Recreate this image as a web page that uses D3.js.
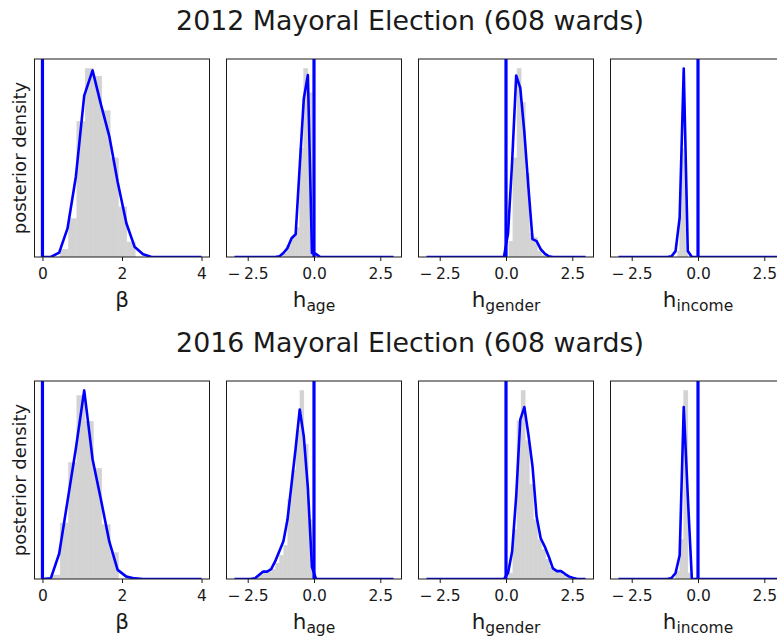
<!DOCTYPE html>
<html>
<head>
<meta charset="utf-8">
<script src="https://cdn.jsdelivr.net/npm/d3@7"></script>
<style>
  body { margin: 0; background: #fff; }
  text { font-family: "DejaVu Sans", sans-serif; }
</style>
</head>
<body>
<svg id="fig" width="777" height="636"></svg>
<script>
// ---- Data -------------------------------------------------------------
const years = ["2012", "2016"];
const wardCount = 608;
const paramSymbols = ["β", "h", "h", "h"];
const paramSubscripts = ["", "age", "gender", "income"];
const betaRange = [0, 4];
const hRange = [-3, 3];
const betaTicks = [0, 2, 4];
const hTicks = [-2.5, 0, 2.5];

// 2012 posterior density curves (vertices) and sample histograms
const beta2012X = [0, 0.21, 0.42, 0.63, 0.84, 1.05, 1.26, 1.47, 1.68, 1.89, 2.11, 2.32, 2.53, 2.74, 4.0];
const beta2012Y = [0, 0, 0.022, 0.144, 0.405, 0.814, 0.941, 0.77, 0.61, 0.38, 0.17, 0.05, 0.014, 0, 0];
const beta2012Edges = [0.444, 0.654, 0.864, 1.073, 1.283, 1.493, 1.703, 1.912, 2.122, 2.332];
const beta2012Hist = [0.039, 0.194, 0.684, 0.951, 0.912, 0.738, 0.50, 0.253, 0.076];

const age2012X = [-3.0, -1.462, -1.308, -1.154, -1.0, -0.846, -0.692, -0.538, -0.385, -0.231, -0.077, 0.077, 0.231, 3.0];
const age2012Y = [0, 0, 0.003, 0.02, 0.045, 0.095, 0.115, 0.46, 0.80, 0.92, 0.02, 0.015, 0, 0];
const age2012Edges = [-1.19, -1.03, -0.87, -0.71, -0.55, -0.39, -0.23, -0.07, 0.09];
const age2012Hist = [0.02, 0.06, 0.10, 0.15, 0.55, 0.953, 0.83, 0.02];

const gender2012X = [-3.0, -0.077, 0.077, 0.231, 0.385, 0.538, 0.692, 0.846, 1.0, 1.154, 1.308, 1.462, 1.615, 1.769, 3.0];
const gender2012Y = [0, 0, 0.12, 0.48, 0.915, 0.853, 0.63, 0.35, 0.09, 0.08, 0.04, 0.017, 0.003, 0, 0];
const gender2012Edges = [0.11, 0.26, 0.415, 0.57, 0.725, 0.88, 1.035, 1.19, 1.345, 1.5];
const gender2012Hist = [0.08, 0.5, 0.951, 0.78, 0.42, 0.12, 0.10, 0.03, 0.01];

const income2012X = [-3.0, -1.154, -1.0, -0.846, -0.692, -0.538, -0.385, -0.231, 3.0];
const income2012Y = [0, 0, 0.003, 0.03, 0.2, 0.959, 0.03, 0, 0];
const income2012Edges = [-0.77, -0.692, -0.615, -0.538, -0.462, -0.385];
const income2012Hist = [0.03, 0.2, 0.55, 0.5, 0.03];

// 2016 posterior density curves (vertices) and sample histograms
const beta2016X = [0, 0.21, 0.42, 0.63, 0.84, 1.05, 1.26, 1.47, 1.68, 1.89, 2.11, 2.32, 2.53, 4.0];
const beta2016Y = [0, 0.003, 0.127, 0.392, 0.657, 0.949, 0.603, 0.40, 0.189, 0.046, 0.012, 0.003, 0, 0];
const beta2016Edges = [0.235, 0.444, 0.654, 0.864, 1.073, 1.283, 1.493, 1.703, 1.912];
const beta2016Hist = [0.02, 0.282, 0.586, 0.924, 0.794, 0.557, 0.274, 0.133];

const age2016X = [-3.0, -2.385, -2.231, -2.077, -1.923, -1.769, -1.615, -1.462, -1.308, -1.154, -1.0, -0.846, -0.692, -0.538, -0.385, -0.231, -0.077, 0.077, 3.0];
const age2016Y = [0, 0, 0.003, 0.02, 0.037, 0.037, 0.05, 0.09, 0.14, 0.19, 0.30, 0.48, 0.66, 0.856, 0.72, 0.46, 0.06, 0, 0];
const age2016Edges = [-2.37, -2.22, -2.06, -1.91, -1.76, -1.6, -1.45, -1.3, -1.14, -0.99, -0.84, -0.68, -0.53, -0.38, -0.22, -0.07];
const age2016Hist = [0.005, 0.012, 0.022, 0.03, 0.035, 0.05, 0.08, 0.12, 0.17, 0.40, 0.55, 0.75, 0.952, 0.68, 0.3];

const gender2016X = [-3.0, -0.077, 0.077, 0.231, 0.385, 0.538, 0.692, 0.846, 1.0, 1.154, 1.308, 1.462, 1.615, 1.769, 1.923, 2.077, 2.231, 2.385, 2.538, 2.692, 3.0];
const gender2016Y = [0, 0, 0.03, 0.139, 0.42, 0.806, 0.87, 0.73, 0.57, 0.316, 0.206, 0.164, 0.113, 0.054, 0.04, 0.04, 0.025, 0.012, 0.005, 0, 0];
const gender2016Edges = [0.103, 0.258, 0.413, 0.568, 0.723, 0.878, 1.033, 1.188, 1.343, 1.498, 1.653, 1.808, 1.963, 2.118, 2.273, 2.428];
const gender2016Hist = [0.03, 0.25, 0.80, 0.954, 0.70, 0.48, 0.30, 0.20, 0.15, 0.10, 0.06, 0.04, 0.03, 0.02, 0.01];

const income2016X = [-3.0, -1.154, -1.0, -0.846, -0.692, -0.538, -0.385, -0.231, 3.0];
const income2016Y = [0, 0, 0.005, 0.03, 0.12, 0.87, 0.42, 0, 0];
const income2016Edges = [-0.85, -0.69, -0.54, -0.38, -0.22];
const income2016Hist = [0.04, 0.2, 0.954, 0.03];

// ---- Layout -----------------------------------------------------------
const colLeft = [34.5, 226.5, 418.5, 610.5];
const panelW = 175;
const rowTop = [59, 381];
const panelH = 198;
const rowOffset = rowTop[1] - rowTop[0];
const lineBlue = "#0000ff";
const histGray = "#d3d3d3";
const ink = "#1a1a1a";

const panels = [
  [
    { cx: beta2012X, cy: beta2012Y, edges: beta2012Edges, hist: beta2012Hist },
    { cx: age2012X, cy: age2012Y, edges: age2012Edges, hist: age2012Hist },
    { cx: gender2012X, cy: gender2012Y, edges: gender2012Edges, hist: gender2012Hist },
    { cx: income2012X, cy: income2012Y, edges: income2012Edges, hist: income2012Hist }
  ],
  [
    { cx: beta2016X, cy: beta2016Y, edges: beta2016Edges, hist: beta2016Hist },
    { cx: age2016X, cy: age2016Y, edges: age2016Edges, hist: age2016Hist },
    { cx: gender2016X, cy: gender2016Y, edges: gender2016Edges, hist: gender2016Hist },
    { cx: income2016X, cy: income2016Y, edges: income2016Edges, hist: income2016Hist }
  ]
];

const fig = d3.select("#fig");
const defs = fig.append("defs");

function tickText(d, isBeta) {
  if (isBeta) return d3.format("d")(d);
  const s = Math.abs(d).toFixed(1);
  return d < 0 ? "\u2212\u2009" + s : s;
}

years.forEach((yr, r) => {
  const top = rowTop[r];

  // Row title
  fig.append("text")
    .attr("x", 410)
    .attr("y", 30 + r * rowOffset)
    .attr("text-anchor", "middle")
    .attr("font-size", 26.8)
    .attr("fill", ink)
    .text(`${yr} Mayoral Election (${wardCount} wards)`);

  panels[r].forEach((p, c) => {
    const left = colLeft[c];
    const isBeta = c === 0;
    const dom = isBeta ? betaRange : hRange;
    const pad = 0.05 * (dom[1] - dom[0]);
    const x = d3.scaleLinear().domain([dom[0] - pad, dom[1] + pad]).range([left, left + panelW]);
    const ymax = Math.max(d3.max(p.hist), d3.max(p.cy)) * 1.05;
    const y = d3.scaleLinear().domain([0, ymax]).range([top + panelH, top]);

    const clipId = `clip-${r}-${c}`;
    defs.append("clipPath").attr("id", clipId)
      .append("rect")
      .attr("x", left).attr("y", top)
      .attr("width", panelW).attr("height", panelH);

    const g = fig.append("g").attr("clip-path", `url(#${clipId})`);

    // Histogram of posterior samples
    g.selectAll("rect.bar")
      .data(p.hist)
      .join("rect")
      .attr("class", "bar")
      .attr("x", (d, i) => x(p.edges[i]))
      .attr("width", (d, i) => x(p.edges[i + 1]) - x(p.edges[i]))
      .attr("y", d => y(d))
      .attr("height", d => y(0) - y(d))
      .attr("fill", histGray)
      .attr("stroke", histGray)
      .attr("stroke-width", 0.4);

    // Density curve
    const pts = p.cx.map((v, i) => [v, p.cy[i]]);
    g.append("path")
      .datum(pts)
      .attr("d", d3.line().x(d => x(d[0])).y(d => y(d[1])))
      .attr("fill", "none")
      .attr("stroke", lineBlue)
      .attr("stroke-width", 2.6)
      .attr("stroke-linejoin", "round");

    // Reference line at zero
    g.append("line")
      .attr("x1", x(0)).attr("x2", x(0))
      .attr("y1", top).attr("y2", top + panelH)
      .attr("stroke", lineBlue)
      .attr("stroke-width", 3.2);

    // Frame
    fig.append("rect")
      .attr("x", left).attr("y", top)
      .attr("width", panelW).attr("height", panelH)
      .attr("fill", "none")
      .attr("stroke", ink)
      .attr("stroke-width", 1);

    // X axis
    const ax = fig.append("g")
      .attr("transform", `translate(0,${top + panelH})`)
      .call(d3.axisBottom(x)
        .tickValues(isBeta ? betaTicks : hTicks)
        .tickFormat(d => tickText(d, isBeta))
        .tickSize(4)
        .tickPadding(7));
    ax.select(".domain").remove();
    ax.selectAll(".tick line").attr("stroke", ink).attr("stroke-width", 1);
    ax.selectAll(".tick text")
      .attr("fill", ink)
      .attr("font-size", 15.5)
      .attr("font-family", "DejaVu Sans, sans-serif");

    // X label with subscript
    const lbl = fig.append("text")
      .attr("x", left + panelW / 2)
      .attr("y", 307 + r * rowOffset)
      .attr("text-anchor", "middle")
      .attr("font-size", 21.5)
      .attr("fill", ink);
    lbl.append("tspan").text(paramSymbols[c]);
    if (paramSubscripts[c]) {
      lbl.append("tspan")
        .attr("font-size", 15.5)
        .attr("dy", 4)
        .text(paramSubscripts[c]);
    }

    // Y label on the first column
    if (isBeta) {
      fig.append("text")
        .attr("transform", `translate(26,${top + panelH / 2}) rotate(-90)`)
        .attr("text-anchor", "middle")
        .attr("font-size", 18)
        .attr("fill", ink)
        .text("posterior density");
    }
  });
});
</script>
</body>
</html>
